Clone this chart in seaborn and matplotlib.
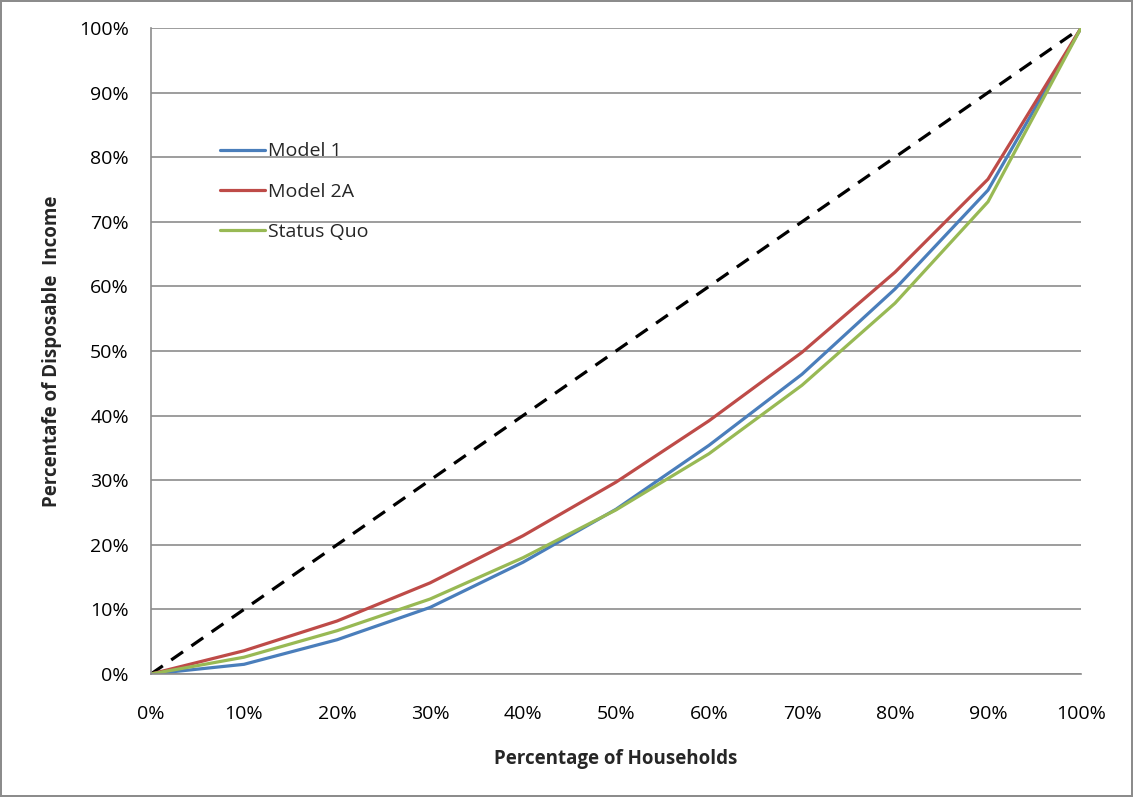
import matplotlib
matplotlib.use("Agg")
import matplotlib.pyplot as plt
import seaborn as sns
import pandas as pd
from matplotlib.ticker import PercentFormatter, MultipleLocator

households = [0, 10, 20, 30, 40, 50, 60, 70, 80, 90, 100]
model_1 = [0, 1.5, 5.3, 10.3, 17.3, 25.5, 35.4, 46.4, 59.6, 74.9, 100]
model_2a = [0, 3.6, 8.2, 14.1, 21.4, 29.7, 39.2, 49.8, 62.2, 76.6, 100]
status_quo = [0, 2.6, 6.7, 11.6, 18.0, 25.4, 34.1, 44.7, 57.4, 73.1, 100]
equality = [0, 100]
equality_x = [0, 100]

series_names = ["Model 1", "Model 2A", "Status Quo"]
colors = ["#4a7ebb", "#be4b48", "#98b954"]

df = pd.DataFrame({
    "x": households * 3,
    "y": model_1 + model_2a + status_quo,
    "series": [series_names[0]] * len(households) + [series_names[1]] * len(households) + [series_names[2]] * len(households),
})
eq = pd.DataFrame({"x": equality_x, "y": equality})

sns.set_style("white")
plt.rcParams["font.family"] = ["Open Sans", "DejaVu Sans"]

fig = plt.figure(figsize=(11.33, 7.97), dpi=100, linewidth=1.5, edgecolor="#8c8c8c")
ax = fig.add_axes([151 / 1133, 1 - 674 / 797, (1081 - 151) / 1133, (674 - 28) / 797])

sns.lineplot(data=eq, x="x", y="y", ax=ax, color="black", linewidth=2.3,
             dashes=False, legend=False)
ax.lines[-1].set_dashes([4.5, 3.2])
sns.lineplot(data=df, x="x", y="y", hue="series", palette=colors, ax=ax,
             linewidth=2.3, hue_order=series_names)

ax.set_xlim(0, 100)
ax.set_ylim(0, 100)
ax.xaxis.set_major_locator(MultipleLocator(10))
ax.yaxis.set_major_locator(MultipleLocator(10))
ax.xaxis.set_major_formatter(PercentFormatter(decimals=0))
ax.yaxis.set_major_formatter(PercentFormatter(decimals=0))
ax.yaxis.grid(True, color="#8c8c8c", linewidth=1.2)
ax.xaxis.grid(False)
ax.set_axisbelow(True)
for s in ["top", "right"]:
    ax.spines[s].set_visible(False)
for s in ["left", "bottom"]:
    ax.spines[s].set_color("#8c8c8c")
    ax.spines[s].set_linewidth(1.2)
ax.tick_params(axis="both", which="major", direction="out", length=6, width=1.2,
               color="#8c8c8c", labelsize=14, labelcolor="black")
ax.tick_params(axis="x", pad=16)
ax.tick_params(axis="y", pad=10)
ax.set_xlabel("Percentage of Households", fontsize=13.5, fontweight="bold", labelpad=19)
ax.set_ylabel("Percentafe of Disposable  Income", fontsize=13.5, fontweight="bold", labelpad=12)

leg = ax.legend(loc="upper left", bbox_to_anchor=(0.066, 0.835), frameon=False,
                fontsize=14, handlelength=2.3, labelspacing=1.15, handletextpad=0.15,
                borderaxespad=0)

fig.savefig("out.png", dpi=100, edgecolor=fig.get_edgecolor())
